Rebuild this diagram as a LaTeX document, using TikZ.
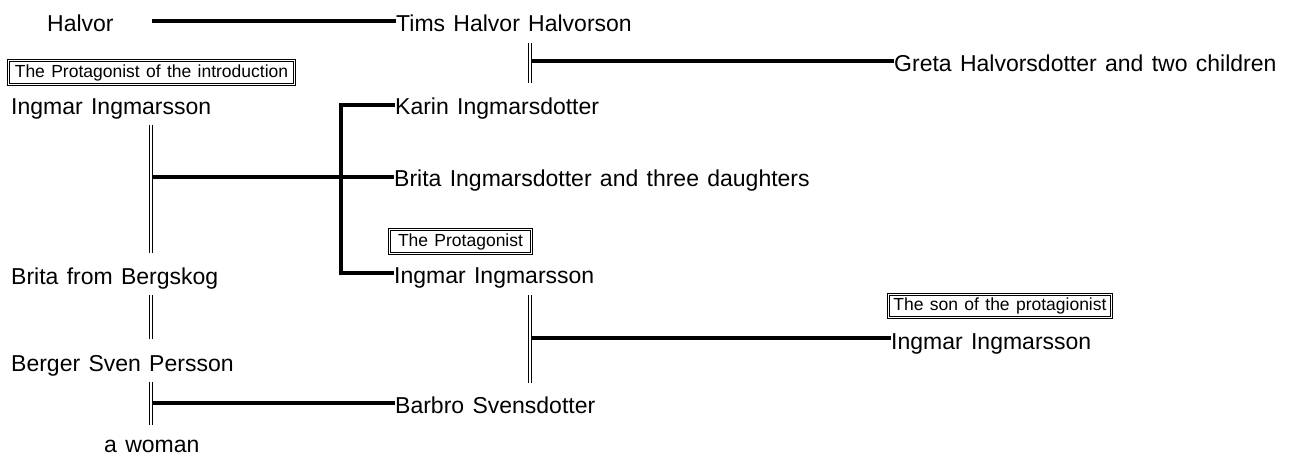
\documentclass[tikz,border=0pt]{standalone}
\usepackage{fontspec}
\setmainfont[WordSpace=1.3]{Liberation Sans}
\begin{document}
\begin{tikzpicture}[x=1pt,y=-1pt,
  person/.style={font=\fontsize{23}{27}\selectfont, inner sep=0pt, anchor=base west},
  tagbox/.style={draw, double, line width=1pt, double distance=1.4pt, inner sep=0pt, font=\fontsize{17.5}{20}\selectfont},
  tie/.style={line width=3.8pt},
  marriage/.style={double, line width=1.2pt, double distance=1.8pt}]
\useasboundingbox (0,0) rectangle (1295,457);

% people
\node[person] (halvor) at (47,32) {Halvor};
\node[person] (tims) at (396,32) {Tims Halvor Halvorson};
\node[person] (greta) at (894,72) {Greta Halvorsdotter and two children};
\node[person] (ingL) at (11,115) {Ingmar Ingmarsson};
\node[person] (karin) at (395,115) {Karin Ingmarsdotter};
\node[person] (britaI) at (394,187) {Brita Ingmarsdotter and three daughters};
\node[person] (britaB) at (11,284) {Brita from Bergskog};
\node[person] (ingM) at (394,283) {Ingmar Ingmarsson};
\node[person] (ingR) at (891,349) {Ingmar Ingmarsson};
\node[person] (berger) at (11,371) {Berger Sven Persson};
\node[person] (barbro) at (395,413) {Barbro Svensdotter};
\node[person] (woman) at (104,452) {a woman};

% tags
\node[tagbox, minimum width=285.5pt, minimum height=23.5pt] (tag1) at (151.5,72.5) {The Protagonist of the introduction};
\node[tagbox, minimum width=141.5pt, minimum height=23.5pt] (tag2) at (460.5,241.5) {The Protagonist};
\node[tagbox, minimum width=222.5pt, minimum height=22.5pt] (tag3) at (1000,306) {The son of the protagionist};

% Halvor -> Tims
\coordinate (a0) at (152,21);
\draw[tie] (a0) -- (a0 -| tims.west);

% Tims marriage -> Greta
\coordinate (t1) at (530,43);
\coordinate (t2) at (530,83);
\draw[marriage] (t1) -- (t2);
\coordinate (t3) at (532,61);
\draw[tie] (t3) -- (t3 -| greta.west);

% Ingmar (intro) + Brita from Bergskog
\coordinate (l1) at (151,125);
\coordinate (l2) at (151,253);
\draw[marriage] (l1) -- (l2);
\coordinate (l3) at (153,177);
\draw[tie] (l3) -- (l3 -| britaI.west);

% children bracket
\coordinate (k1) at (341,105);
\coordinate (k2) at (341,273);
\draw[tie] (k1 -| karin.west) -- (k1) -- (k2) -- (k2 -| ingM.west);

% Brita from Bergskog + Berger
\coordinate (b1) at (151,295);
\coordinate (b2) at (151,339);
\draw[marriage] (b1) -- (b2);

% Berger + a woman
\coordinate (w1) at (151,382);
\coordinate (w2) at (151,425);
\draw[marriage] (w1) -- (w2);
\coordinate (w3) at (153,403);
\draw[tie] (w3) -- (w3 -| barbro.west);

% Ingmar (protagonist) + Barbro
\coordinate (p1) at (530,295);
\coordinate (p2) at (530,383);
\draw[marriage] (p1) -- (p2);
\coordinate (p3) at (532,338);
\draw[tie] (p3) -- (p3 -| ingR.west);
\end{tikzpicture}
\end{document}
